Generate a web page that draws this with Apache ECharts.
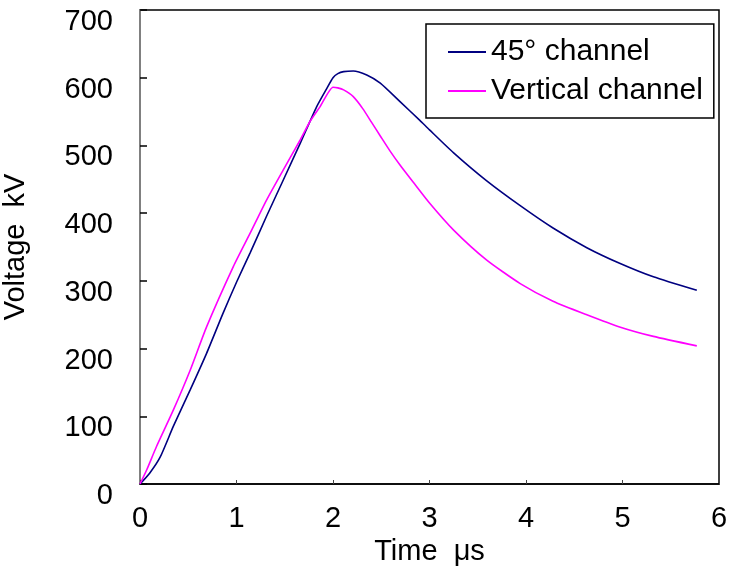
<!DOCTYPE html>
<html>
<head>
<meta charset="utf-8">
<script src="https://cdn.jsdelivr.net/npm/echarts@6/dist/echarts.min.js"></script>
<style>
html,body{margin:0;padding:0;background:#fff;}
#c{width:736px;height:568px;}
</style>
</head>
<body>
<div id="c"></div>
<script>
// Data
var seriesNames = ['45° channel', 'Vertical channel'];
var xTicks = [0, 1, 2, 3, 4, 5, 6];
var yTicks = [0, 100, 200, 300, 400, 500, 600, 700];

var ch45Time    = [0, 0.1, 0.21, 0.345, 0.52, 0.69, 0.86, 1.0, 1.14, 1.31, 1.485, 1.66, 1.83, 1.935, 2.0, 2.05, 2.11, 2.21, 2.35, 2.49, 2.7, 2.9, 3.0, 3.25, 3.59, 3.94, 4.28, 4.63, 4.97, 5.32, 5.77];
var ch45Voltage = [0, 16, 40, 85, 139, 193, 252, 298, 341, 395, 449, 503, 557, 584, 600, 606, 609, 610, 604, 592, 564, 537, 523, 489, 448, 411, 378, 349, 326, 306, 286];

var vertTime    = [0, 0.07, 0.17, 0.345, 0.52, 0.69, 0.967, 1.14, 1.31, 1.485, 1.66, 1.76, 1.865, 2.0, 2.05, 2.11, 2.21, 2.31, 2.4, 2.49, 2.59, 2.7, 2.83, 3.0, 3.25, 3.59, 3.94, 4.28, 4.63, 4.97, 5.32, 5.77];
var vertVoltage = [0, 21, 55, 109, 168, 232, 321, 370, 419, 464, 508, 535, 557, 586, 585, 582, 572, 554, 534, 514, 492, 470, 446, 415, 375, 331, 296, 270, 250, 232, 218, 204];

function zip(a, b) { return a.map(function (v, i) { return [v, b[i]]; }); }

var FONT = '"Liberation Sans", Arial, sans-serif';
var chart = echarts.init(document.getElementById('c'));
chart.setOption({
  animation: false,
  backgroundColor: '#ffffff',
  grid: {
    left: 140, top: 10, right: 17, bottom: 84,
    containLabel: false,
    outerBoundsMode: 'none',
    show: true, borderColor: '#000', borderWidth: 1.5, backgroundColor: 'transparent'
  },
  legend: {
    orient: 'vertical',
    left: 426, top: 24,
    padding: [13, 11, 12, 22],
    itemGap: 9,
    itemWidth: 38,
    itemHeight: 2,
    icon: 'rect',
    borderColor: '#000',
    borderWidth: 1.5,
    backgroundColor: '#fff',
    textStyle: { fontFamily: FONT, fontSize: 30, color: '#000' },
    data: seriesNames
  },
  xAxis: {
    type: 'value',
    min: xTicks[0], max: xTicks[xTicks.length - 1], interval: 1,
    name: 'Time  μs',
    nameLocation: 'middle',
    nameGap: 47,
    nameTextStyle: { fontFamily: FONT, fontSize: 29, color: '#000' },
    axisLine: { show: true, onZero: false, lineStyle: { color: '#000', width: 1.5 } },
    axisTick: { show: true, inside: true, length: 4, lineStyle: { color: '#444', width: 1 } },
    axisLabel: { fontFamily: FONT, fontSize: 29, color: '#000', margin: 20 },
    splitLine: { show: false }
  },
  yAxis: {
    type: 'value',
    min: yTicks[0], max: yTicks[yTicks.length - 1], interval: 100,
    name: 'Voltage  kV',
    nameLocation: 'middle',
    nameGap: 110,
    nameRotate: 90,
    nameTextStyle: { fontFamily: FONT, fontSize: 29, color: '#000' },
    axisLine: { show: true, onZero: false, lineStyle: { color: '#808080', width: 2 } },
    axisTick: { show: true, inside: true, length: 7, lineStyle: { color: '#000', width: 1.5 } },
    axisLabel: { fontFamily: FONT, fontSize: 29, color: '#000', margin: 27, verticalAlign: 'top', lineHeight: 24 },
    splitLine: { show: false }
  },
  series: [
    {
      name: seriesNames[0], type: 'line', symbol: 'none', smooth: 0.2,
      data: zip(ch45Time, ch45Voltage),
      lineStyle: { color: '#000080', width: 1.6 },
      itemStyle: { color: '#000080' }
    },
    {
      name: seriesNames[1], type: 'line', symbol: 'none', smooth: 0.2,
      data: zip(vertTime, vertVoltage),
      lineStyle: { color: '#ff00ff', width: 1.6 },
      itemStyle: { color: '#ff00ff' }
    }
  ]
});
</script>
</body>
</html>
